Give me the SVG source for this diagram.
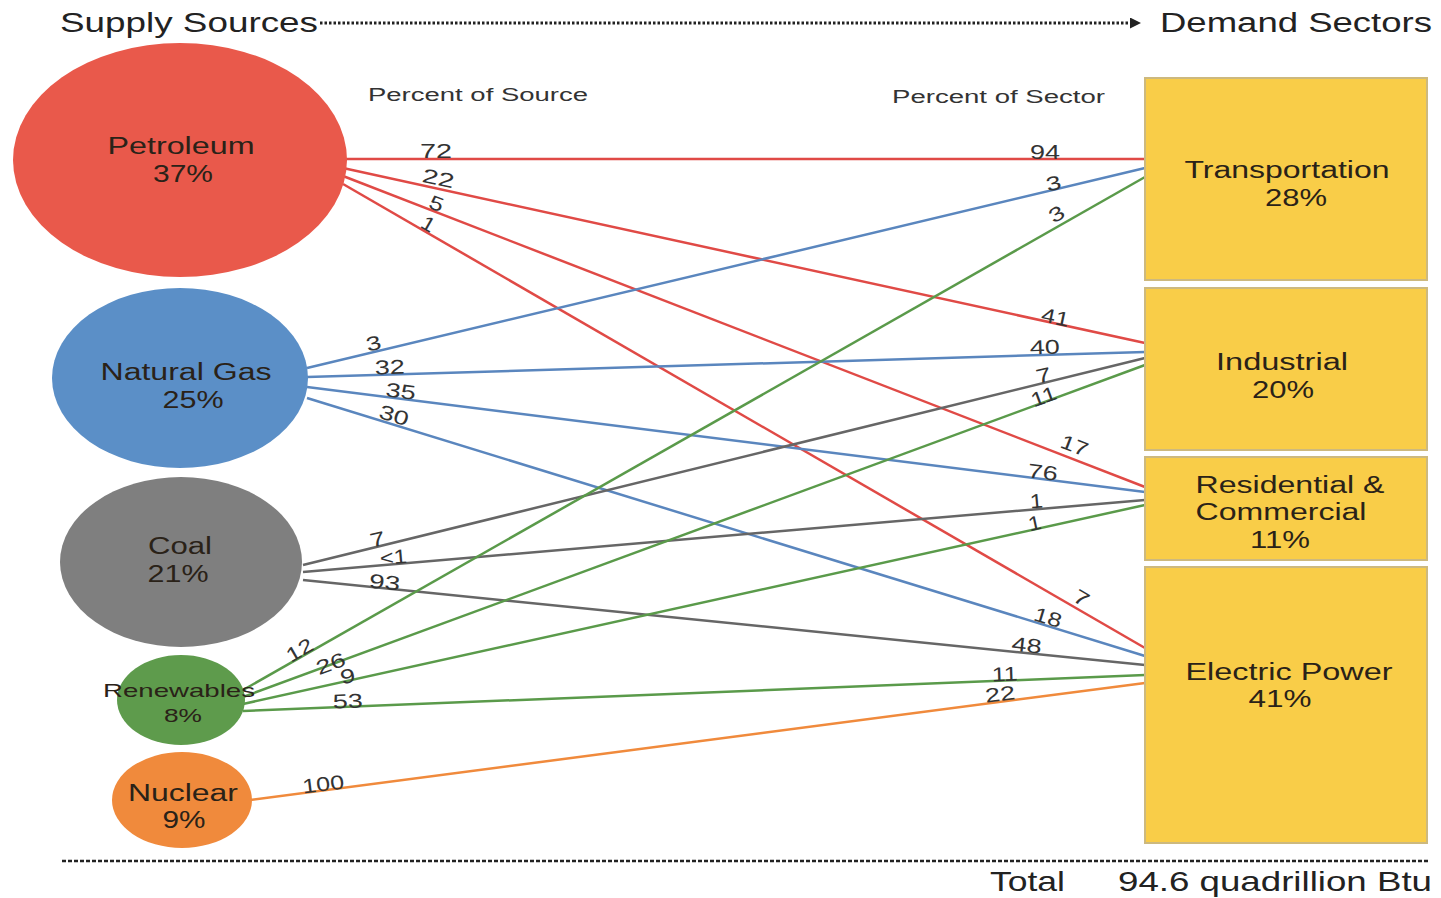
<svg xmlns="http://www.w3.org/2000/svg" width="1441" height="898" viewBox="0 0 1441 898">
<style>
  .hdr{font-family:"Liberation Sans",Arial,sans-serif;font-size:27px;fill:#222}
  .sub{font-family:"Liberation Sans",Arial,sans-serif;font-size:18px;fill:#333}
  .node{font-family:"Liberation Sans",Arial,sans-serif;font-size:23px;fill:#2a2218;text-anchor:middle}
  .num{font-family:"Liberation Sans",Arial,sans-serif;font-size:20px;fill:#333;text-anchor:middle}
  .tot{font-family:"Liberation Sans",Arial,sans-serif;font-size:28px;fill:#222}
  .red{stroke:#E04A46;stroke-width:2.5;fill:none}
  .blue{stroke:#5A86BE;stroke-width:2.5;fill:none}
  .gray{stroke:#666666;stroke-width:2.5;fill:none}
  .green{stroke:#5A9A4A;stroke-width:2.5;fill:none}
  .orange{stroke:#F08A3C;stroke-width:2.5;fill:none}
  .box{fill:#F9CD48;stroke:#CDB97E;stroke-width:2}
</style>
<defs>
  <marker id="arr" markerWidth="11" markerHeight="11" refX="1" refY="5.5" orient="auto" markerUnits="userSpaceOnUse">
    <path d="M0,0 L11,5.5 L0,11 Z" fill="#222"/>
  </marker>
</defs>
<rect width="1441" height="898" fill="#ffffff"/>

<!-- header -->
<text class="hdr" x="60" y="32" textLength="258" lengthAdjust="spacingAndGlyphs">Supply Sources</text>
<line x1="320" y1="23" x2="1131" y2="23" stroke="#222" stroke-width="3" stroke-dasharray="2.5,2" marker-end="url(#arr)"/>
<text class="hdr" x="1160" y="32" textLength="272" lengthAdjust="spacingAndGlyphs">Demand Sectors</text>
<text class="sub" x="368" y="101" textLength="220" lengthAdjust="spacingAndGlyphs">Percent of Source</text>
<text class="sub" x="892" y="103" textLength="213" lengthAdjust="spacingAndGlyphs">Percent of Sector</text>

<!-- connectors -->
<g id="connectors">
  <line class="red" x1="343" y1="159" x2="1145" y2="159"/>
  <line class="red" x1="343" y1="168" x2="1145" y2="343"/>
  <line class="red" x1="343" y1="176" x2="1145" y2="487"/>
  <line class="red" x1="343" y1="184" x2="1145" y2="648"/>
  <line class="blue" x1="307" y1="368" x2="1145" y2="168"/>
  <line class="blue" x1="307" y1="377" x2="1145" y2="352"/>
  <line class="blue" x1="307" y1="387" x2="1145" y2="492"/>
  <line class="blue" x1="307" y1="398" x2="1145" y2="656"/>
  <line class="gray" x1="303" y1="565" x2="1145" y2="358"/>
  <line class="gray" x1="303" y1="572" x2="1145" y2="500"/>
  <line class="gray" x1="303" y1="580" x2="1145" y2="665"/>
  <line class="green" x1="243" y1="690" x2="1145" y2="177"/>
  <line class="green" x1="243" y1="697" x2="1145" y2="365"/>
  <line class="green" x1="243" y1="704" x2="1145" y2="505"/>
  <line class="green" x1="243" y1="711" x2="1145" y2="675"/>
  <line class="orange" x1="250" y1="800" x2="1145" y2="683"/>

  <!-- labels: percent of source -->
  <text class="num" x="436" y="158" textLength="32" lengthAdjust="spacingAndGlyphs">72</text>
  <text class="num" transform="rotate(12 437 185)" x="437" y="185" textLength="32" lengthAdjust="spacingAndGlyphs">22</text>
  <text class="num" transform="rotate(21 434 210)" x="434" y="210" textLength="14" lengthAdjust="spacingAndGlyphs">5</text>
  <text class="num" transform="rotate(30 425 230)" x="425" y="230" textLength="13" lengthAdjust="spacingAndGlyphs">1</text>

  <text class="num" transform="rotate(-13 375 350)" x="375" y="350" textLength="15" lengthAdjust="spacingAndGlyphs">3</text>
  <text class="num" transform="rotate(-2 390 374)" x="390" y="374" textLength="30" lengthAdjust="spacingAndGlyphs">32</text>
  <text class="num" transform="rotate(7 400 398)" x="400" y="398" textLength="30" lengthAdjust="spacingAndGlyphs">35</text>
  <text class="num" transform="rotate(17 392 422)" x="392" y="422" textLength="30" lengthAdjust="spacingAndGlyphs">30</text>

  <text class="num" transform="rotate(-13 379 546)" x="379" y="546" textLength="15" lengthAdjust="spacingAndGlyphs">7</text>
  <text class="num" transform="rotate(-5 394 564)" x="394" y="564" textLength="27" lengthAdjust="spacingAndGlyphs">&lt;1</text>
  <text class="num" transform="rotate(6 384 589)" x="384" y="589" textLength="31" lengthAdjust="spacingAndGlyphs">93</text>

  <text class="num" transform="rotate(-30 303 656)" x="303" y="656" textLength="28" lengthAdjust="spacingAndGlyphs">12</text>
  <text class="num" transform="rotate(-20 333 670)" x="333" y="670" textLength="30" lengthAdjust="spacingAndGlyphs">26</text>
  <text class="num" transform="rotate(-12 349 683)" x="349" y="683" textLength="15" lengthAdjust="spacingAndGlyphs">9</text>
  <text class="num" transform="rotate(-2 348 708)" x="348" y="708" textLength="30" lengthAdjust="spacingAndGlyphs">53</text>

  <text class="num" transform="rotate(-7 324 791)" x="324" y="791" textLength="42" lengthAdjust="spacingAndGlyphs">100</text>

  <!-- labels: percent of sector -->
  <text class="num" x="1045" y="159" textLength="30" lengthAdjust="spacingAndGlyphs">94</text>
  <text class="num" transform="rotate(-13 1055 190)" x="1055" y="190" textLength="15" lengthAdjust="spacingAndGlyphs">3</text>
  <text class="num" transform="rotate(-30 1060 220)" x="1060" y="220" textLength="15" lengthAdjust="spacingAndGlyphs">3</text>

  <text class="num" transform="rotate(12 1054 324)" x="1054" y="324" textLength="28" lengthAdjust="spacingAndGlyphs">41</text>
  <text class="num" transform="rotate(-2 1045 354)" x="1045" y="354" textLength="30" lengthAdjust="spacingAndGlyphs">40</text>
  <text class="num" transform="rotate(-13 1045 382)" x="1045" y="382" textLength="15" lengthAdjust="spacingAndGlyphs">7</text>
  <text class="num" transform="rotate(-20 1046 403)" x="1046" y="403" textLength="26" lengthAdjust="spacingAndGlyphs">11</text>

  <text class="num" transform="rotate(21 1072 452)" x="1072" y="452" textLength="28" lengthAdjust="spacingAndGlyphs">17</text>
  <text class="num" transform="rotate(7 1042 479)" x="1042" y="479" textLength="30" lengthAdjust="spacingAndGlyphs">76</text>
  <text class="num" transform="rotate(-5 1037 508)" x="1037" y="508" textLength="13" lengthAdjust="spacingAndGlyphs">1</text>
  <text class="num" transform="rotate(-12 1036 530)" x="1036" y="530" textLength="13" lengthAdjust="spacingAndGlyphs">1</text>

  <text class="num" transform="rotate(30 1078 604)" x="1078" y="604" textLength="15" lengthAdjust="spacingAndGlyphs">7</text>
  <text class="num" transform="rotate(17 1046 624)" x="1046" y="624" textLength="28" lengthAdjust="spacingAndGlyphs">18</text>
  <text class="num" transform="rotate(6 1026 652)" x="1026" y="652" textLength="30" lengthAdjust="spacingAndGlyphs">48</text>
  <text class="num" transform="rotate(-2 1005 681)" x="1005" y="681" textLength="26" lengthAdjust="spacingAndGlyphs">11</text>
  <text class="num" transform="rotate(-7 1001 701)" x="1001" y="701" textLength="30" lengthAdjust="spacingAndGlyphs">22</text>
</g>

<!-- supply nodes -->
<g id="petroleum">
  <ellipse cx="180" cy="160" rx="167" ry="117" fill="#E9594B"/>
  <text class="node" x="181" y="154" textLength="147" lengthAdjust="spacingAndGlyphs">Petroleum</text>
  <text class="node" x="183" y="182" textLength="60" lengthAdjust="spacingAndGlyphs">37%</text>
</g>
<g id="natural-gas">
  <ellipse cx="180" cy="378" rx="128" ry="90" fill="#5B8FC7"/>
  <text class="node" x="186" y="380" textLength="171" lengthAdjust="spacingAndGlyphs">Natural Gas</text>
  <text class="node" x="193" y="408" textLength="61" lengthAdjust="spacingAndGlyphs">25%</text>
</g>
<g id="coal">
  <ellipse cx="181" cy="562" rx="121" ry="85" fill="#7F7F7F"/>
  <text class="node" x="180" y="554" textLength="64" lengthAdjust="spacingAndGlyphs">Coal</text>
  <text class="node" x="178" y="582" textLength="61" lengthAdjust="spacingAndGlyphs">21%</text>
</g>
<g id="renewables">
  <ellipse cx="181" cy="700" rx="64" ry="45" fill="#5E9B4C"/>
  <text class="node" style="font-size:19px" x="179" y="697" textLength="152" lengthAdjust="spacingAndGlyphs">Renewables</text>
  <text class="node" style="font-size:19px" x="183" y="722" textLength="38" lengthAdjust="spacingAndGlyphs">8%</text>
</g>
<g id="nuclear">
  <ellipse cx="182" cy="800" rx="70" ry="48" fill="#F08A3C"/>
  <text class="node" x="183" y="801" textLength="110" lengthAdjust="spacingAndGlyphs">Nuclear</text>
  <text class="node" x="184" y="828" textLength="43" lengthAdjust="spacingAndGlyphs">9%</text>
</g>

<!-- demand nodes -->
<g id="transportation">
  <rect class="box" x="1145" y="78" width="282" height="202"/>
  <text class="node" x="1287" y="178" textLength="205" lengthAdjust="spacingAndGlyphs">Transportation</text>
  <text class="node" x="1296" y="206" textLength="62" lengthAdjust="spacingAndGlyphs">28%</text>
</g>
<g id="industrial">
  <rect class="box" x="1145" y="288" width="282" height="162"/>
  <text class="node" x="1282" y="370" textLength="132" lengthAdjust="spacingAndGlyphs">Industrial</text>
  <text class="node" x="1283" y="398" textLength="62" lengthAdjust="spacingAndGlyphs">20%</text>
</g>
<g id="residential-commercial">
  <rect class="box" x="1145" y="457" width="282" height="103"/>
  <text class="node" x="1290" y="493" textLength="189" lengthAdjust="spacingAndGlyphs">Residential &amp;</text>
  <text class="node" x="1281" y="520" textLength="171" lengthAdjust="spacingAndGlyphs">Commercial</text>
  <text class="node" x="1280" y="548" textLength="60" lengthAdjust="spacingAndGlyphs">11%</text>
</g>
<g id="electric-power">
  <rect class="box" x="1145" y="567" width="282" height="276"/>
  <text class="node" x="1289" y="680" textLength="207" lengthAdjust="spacingAndGlyphs">Electric Power</text>
  <text class="node" x="1280" y="707" textLength="63" lengthAdjust="spacingAndGlyphs">41%</text>
</g>

<!-- footer -->
<line x1="62" y1="861" x2="1430" y2="861" stroke="#222" stroke-width="2.5" stroke-dasharray="4,2"/>
<text class="tot" x="990" y="891" textLength="75" lengthAdjust="spacingAndGlyphs">Total</text>
<text class="tot" x="1118" y="891" textLength="314" lengthAdjust="spacingAndGlyphs">94.6 quadrillion Btu</text>
</svg>
